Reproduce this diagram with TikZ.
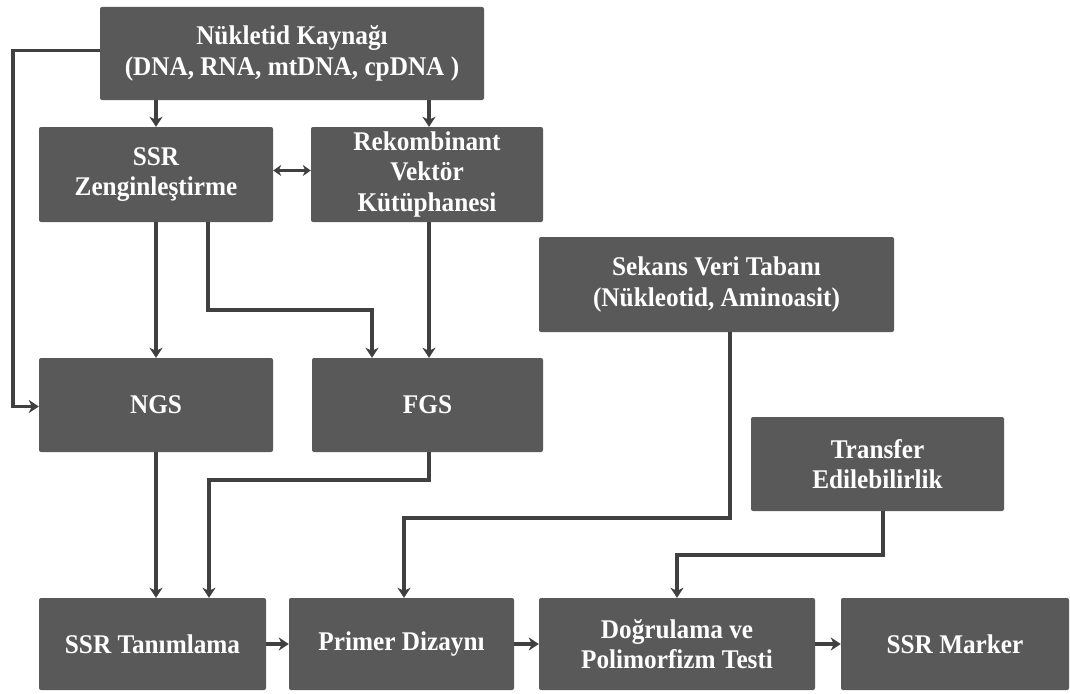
\documentclass[tikz,border=0pt]{standalone}
\usepackage{fontspec}
\setmainfont{Liberation Serif}
\newfontfamily\boxfont[FakeStretch=0.935]{Liberation Serif Bold}
\usetikzlibrary{arrows.meta}
\definecolor{boxgray}{HTML}{595959}
\definecolor{linegray}{HTML}{404040}
\tikzset{
  stepbox/.style={fill=boxgray, draw=none, rounded corners=2pt, text=white,
    font=\fontsize{27}{30.5}\boxfont, align=center,
    inner sep=0pt, anchor=center},
  arr/.style={draw=linegray, line width=3.5pt,
    -{Stealth[length=10pt,width=13pt,inset=3pt]}},
  darr/.style={draw=linegray, line width=3pt,
    {Stealth[length=8pt,width=11pt,inset=2.5pt]}-{Stealth[length=8pt,width=11pt,inset=2.5pt]}}
}
\begin{document}
\begin{tikzpicture}[x=1pt,y=-1pt]
\useasboundingbox (0,0) rectangle (1070,693);
\fill[white] (0,0) rectangle (1070,693);

% boxes
\node[stepbox, minimum width=384pt, minimum height=93pt] (nuk) at (292,53.5)
  {Nükletid Kaynağı\\(DNA, RNA, mtDNA, cpDNA )};
\node[stepbox, minimum width=234pt, minimum height=95pt] (ssr) at (156,174.5)
  {SSR\\Zenginleştirme};
\node[stepbox, minimum width=232pt, minimum height=95pt] (rek) at (427,174.5)
  {Rekombinant\\Vektör\\Kütüphanesi};
\node[stepbox, minimum width=355pt, minimum height=95pt] (sek) at (716.5,284.5)
  {Sekans Veri Tabanı\\(Nükleotid, Aminoasit)};
\node[stepbox, minimum width=234pt, minimum height=94pt] (ngs) at (156,405) {NGS};
\node[stepbox, minimum width=231pt, minimum height=94pt] (fgs) at (427.5,405) {FGS};
\node[stepbox, minimum width=253pt, minimum height=94pt] (tra) at (877.5,464)
  {Transfer\\Edilebilirlik};
\node[stepbox, minimum width=227pt, minimum height=92pt] (tan) at (152.5,644) {SSR Tanımlama};
\node[stepbox, minimum width=225pt, minimum height=92pt] (pri) at (401.5,644) {Primer Dizaynı};
\node[stepbox, minimum width=276pt, minimum height=92pt] (dog) at (677,644)
  {Doğrulama ve\\Polimorfizm Testi};
\node[stepbox, minimum width=228pt, minimum height=92pt] (mar) at (955,644) {SSR Marker};

% bend points of the routed connectors
\coordinate (lft) at (13,0);
\coordinate (sa) at (208,310);
\coordinate (sb) at (372,310);
\coordinate (fa) at (429,480);
\coordinate (fb) at (209,480);
\coordinate (ka) at (730,518);
\coordinate (kb) at (404,518);
\coordinate (ta) at (883,555);
\coordinate (tb) at (677,555);

% connectors
\draw[arr] (nuk.south -| ssr.north) -- (ssr.north);
\draw[arr] (nuk.south -| 429,0) -- (rek.north -| 429,0);
\draw[arr] ([yshift=3pt]nuk.west) -- ([yshift=3pt]nuk.west -| lft) |- ([yshift=-1.5pt]ngs.west);
\draw[darr] ([yshift=4pt]ssr.east) -- ([yshift=4pt]rek.west);
\draw[arr] (ssr.south) -- (ngs.north);
\draw[arr] (ssr.south -| sa) -- (sa) -- (sb) -- (fgs.north -| sb);
\draw[arr] (rek.south -| 429,0) -- (fgs.north -| 429,0);
\draw[arr] (ngs.south) -- (ngs.south |- tan.north);
\draw[arr] (fgs.south -| fa) -- (fa) -- (fb) -- (tan.north -| fb);
\draw[arr] (sek.south -| ka) -- (ka) -- (kb) -- (pri.north -| kb);
\draw[arr] (tra.south -| ta) -- (ta) -- (tb) -- (dog.north -| tb);
\draw[arr] (tan.east) -- (pri.west);
\draw[arr] (pri.east) -- (dog.west);
\draw[arr] (dog.east) -- (mar.west);
\end{tikzpicture}
\end{document}
